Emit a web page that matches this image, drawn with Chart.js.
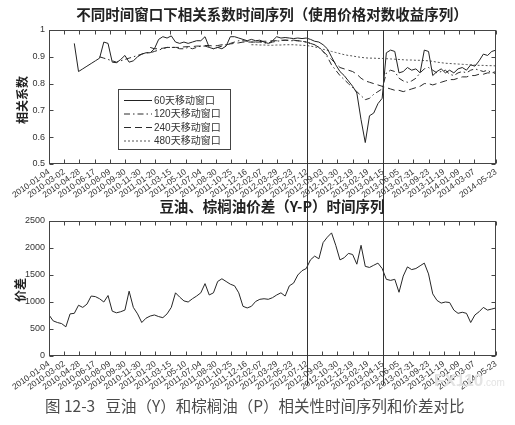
<!DOCTYPE html>
<html>
<head>
<meta charset="utf-8">
<script src="https://cdn.jsdelivr.net/npm/chart.js@4.4.1/dist/chart.umd.min.js"></script>
<style>
  body { margin: 0; background: #fff; width: 515px; height: 425px; overflow: hidden; position: relative; }
  canvas { position: absolute; left: 0; }
  #corrCanvas { top: 0; }
  #spreadCanvas { top: 200px; }
  .txt { position: absolute; white-space: nowrap; font-family: "Noto Sans CJK SC", sans-serif; color: #222; line-height: 1; }
  .ttl { font-weight: bold; font-size: 14.5px; transform: translateX(-50%); }
  .ylab { font-weight: bold; font-size: 12px; transform: translate(-50%, -50%) rotate(-90deg); }
</style>
</head>
<body>
<canvas id="corrCanvas" width="515" height="200" style="width:515px;height:200px"></canvas>
<canvas id="spreadCanvas" width="515" height="200" style="width:515px;height:200px"></canvas>

<div class="txt ttl" style="left:272px;top:7px">不同时间窗口下相关系数时间序列（使用价格对数收益序列）</div>
<div class="txt ylab" style="left:22px;top:100px">相关系数</div>
<div class="txt ttl" style="left:272px;top:199px">豆油、棕榈油价差（Y-P）时间序列</div>
<div class="txt ylab" style="left:20px;top:290px">价差</div>
<div class="txt" style="left:434px;top:372px;font-family:'Liberation Sans',sans-serif;font-weight:bold;font-size:17px;color:#e4e4e4;">FX110<span style="font-size:10px;font-weight:normal">.com</span></div>
<div class="txt" style="left:45px;top:398px;font-size:15.5px;color:#4a4a4a;">图 12-3&nbsp;&nbsp;&nbsp;豆油（Y）和棕榈油（P）相关性时间序列和价差对比</div>

<script>
// Trading-day index of each tick on the date axis, and its label
const tickDays = [0, 36, 72, 108, 144, 180, 216, 252, 288, 324, 360, 396, 432, 468, 504,
  540, 576, 612, 648, 684, 720, 756, 792, 828, 864, 900, 936, 972, 1008, 1060];
const tickLabels = ['2010-01-04', '2010-03-02', '2010-04-28', '2010-06-17', '2010-08-09',
  '2010-09-30', '2010-11-30', '2011-01-20', '2011-03-15', '2011-05-10', '2011-07-04',
  '2011-08-30', '2011-10-25', '2011-12-16', '2012-02-07', '2012-03-29', '2012-05-23',
  '2012-07-12', '2012-09-03', '2012-10-30', '2012-12-19', '2013-02-19', '2013-04-15',
  '2013-06-05', '2013-07-31', '2013-09-23', '2013-11-19', '2014-01-09', '2014-03-07',
  '2014-05-23'];
// Dates marked with vertical lines (2012-07-12, 2013-04-15)
const markerDays = [612, 792];

// Series are sampled every 10 trading days
const sampleStep = 10;
const windowLabels = ['60天移动窗口', '120天移动窗口', '240天移动窗口', '480天移动窗口'];
const windowStartDays = [60, 120, 240, 480];

const corr60 = [0.95,0.845,0.855,0.865,0.875,0.885,0.895,0.955,0.95,0.88,
  0.878,0.89,0.905,0.88,0.885,0.9,0.91,0.915,0.915,0.93,
  0.965,0.975,0.97,0.978,0.955,0.95,0.955,0.95,0.955,0.96,
  0.96,0.975,0.935,0.93,0.935,0.93,0.94,0.975,0.975,0.97,
  0.965,0.96,0.965,0.96,0.962,0.955,0.95,0.96,0.975,0.97,
  0.972,0.97,0.968,0.97,0.968,0.97,0.965,0.958,0.955,0.945,
  0.93,0.9,0.87,0.845,0.83,0.81,0.79,0.765,0.665,0.58,
  0.68,0.69,0.725,0.745,0.915,0.925,0.92,0.84,0.845,0.86,
  0.85,0.855,0.84,0.925,0.92,0.83,0.845,0.855,0.84,0.85,
  0.84,0.855,0.86,0.85,0.87,0.865,0.885,0.91,0.905,0.92,0.925];
const corr120 = [0.9,0.895,0.89,0.885,0.88,0.885,0.89,0.895,0.9,0.905,
  0.91,0.915,0.915,0.92,0.925,0.93,0.935,0.935,0.935,0.93,
  0.93,0.935,0.93,0.935,0.94,0.94,0.935,0.93,0.935,0.94,
  0.945,0.95,0.955,0.96,0.96,0.958,0.955,0.955,0.955,0.952,
  0.95,0.955,0.958,0.96,0.962,0.96,0.96,0.96,0.958,0.955,
  0.95,0.945,0.935,0.92,0.9,0.87,0.85,0.83,0.815,0.8,
  0.785,0.77,0.755,0.74,0.745,0.76,0.77,0.78,0.84,0.85,
  0.845,0.82,0.81,0.805,0.81,0.82,0.84,0.855,0.86,0.85,
  0.84,0.845,0.85,0.835,0.83,0.84,0.845,0.84,0.85,0.855,
  0.85,0.845,0.85,0.84,0.845];
const corr240 = [0.935,0.93,0.93,0.932,0.935,0.935,0.935,0.935,0.937,0.938,
  0.938,0.94,0.94,0.942,0.942,0.94,0.942,0.945,0.945,0.948,
  0.95,0.952,0.955,0.955,0.955,0.955,0.957,0.958,0.958,0.96,
  0.96,0.962,0.962,0.962,0.962,0.96,0.958,0.955,0.95,0.945,
  0.935,0.92,0.905,0.89,0.875,0.86,0.855,0.85,0.845,0.835,
  0.82,0.81,0.805,0.8,0.795,0.79,0.785,0.78,0.775,0.775,
  0.77,0.775,0.78,0.785,0.79,0.8,0.8,0.795,0.8,0.805,
  0.81,0.815,0.815,0.82,0.825,0.825,0.83,0.83,0.835,0.835,
  0.84,0.84,0.838];
const corr480 = [0.945,0.945,0.944,0.944,0.943,0.943,0.944,0.944,0.945,0.945,
  0.945,0.944,0.943,0.942,0.94,0.937,0.933,0.928,0.924,0.92,
  0.916,0.912,0.908,0.905,0.903,0.9,0.898,0.896,0.895,0.895,
  0.894,0.894,0.893,0.892,0.891,0.89,0.889,0.888,0.888,0.887,
  0.887,0.886,0.885,0.883,0.88,0.878,0.876,0.875,0.874,0.873,
  0.872,0.871,0.87,0.869,0.868,0.868,0.867,0.867,0.866];

// Soybean oil minus palm oil price spread (Y-P), from day 0
const spreadYP = [760,650,620,600,540,780,790,940,900,960,
  1110,1100,1060,1000,1120,830,800,820,850,1200,
  900,780,620,700,740,760,730,710,780,900,
  1170,1090,1020,1000,1060,1110,1170,1340,1130,1170,
  1380,1430,1380,1330,1300,1170,920,890,920,1010,
  1050,1060,1050,1080,1130,1170,1110,1300,1350,1500,
  1580,1620,1780,1850,1800,2100,2200,2280,2050,1780,
  1820,1900,1880,1700,2050,1660,1640,1680,1720,1620,
  1420,1400,1420,1180,1480,1650,1600,1620,1670,1720,
  1520,1150,1030,980,1000,990,850,790,810,790,
  620,760,820,900,850,870,890];

const toPoints = (values, startDay) => values.map((v, i) => ({ x: startDay + i * sampleStep, y: v }));

const lineColor = '#262626';
const dashStyles = [[], [6, 3, 1.5, 3], [7, 4], [2, 2]];
const dashColors = ['#222', '#2a2a2a', '#2a2a2a', '#555'];

// Frame, inward ticks and the vertical date markers
const frameAndMarks = {
  id: 'frameAndMarks',
  afterDraw(chart, args, o) {
    const { ctx, chartArea: a, scales: { x, y } } = chart;
    ctx.save();
    ctx.strokeStyle = '#444';
    ctx.lineWidth = 1;
    const L = Math.round(a.left) + 0.5, R = Math.round(a.right) - 0.5;
    const T = Math.round(a.top) + 0.5, B = Math.round(a.bottom) - 0.5;
    ctx.strokeRect(L, T, R - L, B - T);
    ctx.beginPath();
    x.ticks.forEach(t => {
      const px = Math.round(x.getPixelForValue(t.value)) + 0.5;
      ctx.moveTo(px, B); ctx.lineTo(px, B - 4);
      ctx.moveTo(px, T); ctx.lineTo(px, T + 4);
    });
    y.ticks.forEach(t => {
      const py = Math.round(y.getPixelForValue(t.value)) + 0.5;
      ctx.moveTo(L, py); ctx.lineTo(L + 4, py);
      ctx.moveTo(R, py); ctx.lineTo(R - 4, py);
    });
    ctx.stroke();
    ctx.strokeStyle = '#333';
    ctx.beginPath();
    markerDays.forEach(d => {
      const px = Math.round(x.getPixelForValue(d)) + 0.5;
      ctx.moveTo(px, o.markTop); ctx.lineTo(px, o.markBottom);
    });
    ctx.stroke();
    ctx.restore();
  }
};

// Boxed legend inside the correlation plot
const boxLegend = {
  id: 'boxLegend',
  afterDraw(chart, args, o) {
    if (!o.show) return;
    const ctx = chart.ctx;
    ctx.save();
    ctx.fillStyle = '#fff';
    ctx.fillRect(118.5, 89.5, 112, 60);
    ctx.strokeStyle = '#444';
    ctx.lineWidth = 1;
    ctx.strokeRect(118.5, 89.5, 112, 60);
    ctx.font = '10px "Liberation Sans", "Noto Sans CJK SC"';
    ctx.textBaseline = 'middle';
    const rows = [100, 113.5, 127, 140.5];
    chart.data.datasets.forEach((ds, i) => {
      const yy = rows[i] + 0.5;
      ctx.strokeStyle = ds.borderColor;
      ctx.setLineDash(ds.borderDash || []);
      ctx.beginPath();
      ctx.moveTo(124, yy); ctx.lineTo(152, yy);
      ctx.stroke();
      ctx.setLineDash([]);
      ctx.fillStyle = '#333';
      ctx.fillText(ds.label, 154, rows[i] + 1);
    });
    ctx.restore();
  }
};

const dateAxis = (height) => ({
  type: 'linear',
  min: 0,
  max: 1060,
  afterBuildTicks: s => { s.ticks = tickDays.map(v => ({ value: v })); },
  afterFit: s => { s.height = height; },
  grid: { display: false, drawTicks: false },
  border: { display: false },
  ticks: {
    autoSkip: false,
    minRotation: 35,
    maxRotation: 35,
    padding: 3,
    color: '#333',
    font: { family: 'Liberation Sans', size: 8.5 },
    callback: (v) => { const k = tickDays.indexOf(v); return k >= 0 ? tickLabels[k] : ''; }
  }
});

const valueAxis = (min, max, step) => ({
  min, max,
  afterFit: s => { s.width = 49; },
  grid: { display: false, drawTicks: false },
  border: { display: false },
  ticks: {
    stepSize: step, padding: 4, color: '#333',
    font: { family: 'Liberation Sans', size: 9 },
    callback: (v) => String(Math.round(v * 1000) / 1000)
  }
});

const baseDataset = { pointRadius: 0, borderWidth: 1, tension: 0, fill: false };

new Chart(document.getElementById('corrCanvas'), {
  type: 'line',
  data: {
    datasets: [corr60, corr120, corr240, corr480].map((vals, i) => Object.assign({}, baseDataset, {
      label: windowLabels[i],
      data: toPoints(vals, windowStartDays[i]),
      borderColor: dashColors[i],
      borderDash: dashStyles[i]
    }))
  },
  options: {
    responsive: false,
    animation: false,
    layout: { padding: { left: 0, right: 19, top: 30, bottom: 0 } },
    scales: { x: dateAxis(36), y: valueAxis(0.5, 1, 0.1) },
    plugins: {
      legend: { display: false },
      tooltip: { enabled: false },
      frameAndMarks: { markTop: 30, markBottom: 200 },
      boxLegend: { show: true }
    }
  },
  plugins: [frameAndMarks, boxLegend]
});

new Chart(document.getElementById('spreadCanvas'), {
  type: 'line',
  data: {
    datasets: [Object.assign({}, baseDataset, {
      label: '价差',
      data: toPoints(spreadYP, 0),
      borderColor: lineColor
    })]
  },
  options: {
    responsive: false,
    animation: false,
    layout: { padding: { left: 0, right: 19, top: 21, bottom: 0 } },
    scales: { x: dateAxis(44), y: valueAxis(0, 2500, 500) },
    plugins: {
      legend: { display: false },
      tooltip: { enabled: false },
      frameAndMarks: { markTop: 0, markBottom: 185 },
      boxLegend: { show: false }
    }
  },
  plugins: [frameAndMarks, boxLegend]
});
</script>
</body>
</html>
